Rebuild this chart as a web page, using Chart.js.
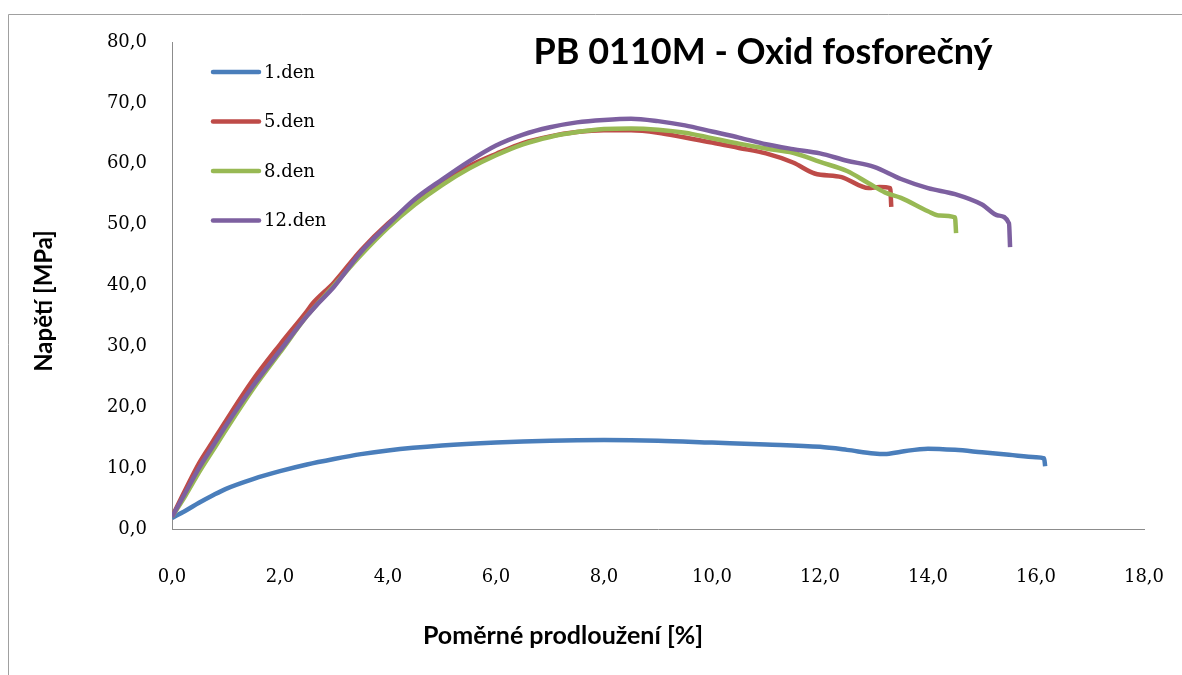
<!DOCTYPE html>
<html>
<head>
<meta charset="utf-8">
<script src="https://cdn.jsdelivr.net/npm/chart.js@4.4.0/dist/chart.umd.min.js"></script>
<style>
html,body{margin:0;padding:0;background:#fff;}
#wrap{width:1182px;height:675px;position:relative;}
</style>
</head>
<body>
<div id="wrap"><canvas id="chart" width="1182" height="675"></canvas></div>
<script>
const chartTitle = 'PB 0110M - Oxid fosforečný';
const xTitle = 'Poměrné prodloužení [%]';
const yTitle = 'Napětí [MPa]';
const seriesNames = ['1.den','5.den','8.den','12.den'];
const seriesColors = ['#4a7ebb','#be4b48','#98b954','#7d60a0'];

// strain [%] / stress [MPa] for each test day
const den1X = [0,0.25,0.5,0.75,1,1.5,2,2.5,3,3.5,4,5,6,7,8,9,10,11,12,12.5,13,13.2,13.5,14,14.5,15,15.5,16,16.15,16.17];
const den1Y = [1.8,3.0,4.3,5.5,6.6,8.2,9.5,10.6,11.5,12.3,12.9,13.7,14.2,14.5,14.6,14.5,14.2,13.9,13.5,13.0,12.4,12.3,12.7,13.2,13.0,12.6,12.2,11.8,11.6,10.3];

const den5X = [0,0.25,0.5,0.75,1,1.5,2,2.5,2.6,3,3.5,4,4.5,5,5.5,6,6.5,7,7.5,8,8.5,9,9.5,10,10.5,11,11.5,11.9,12.4,12.9,13.1,13.3,13.32];
const den5Y = [2.0,6.5,10.8,14.3,17.8,24.5,30.3,35.8,37.0,40.5,45.8,50.2,53.8,57.0,59.6,61.6,63.4,64.5,65.2,65.5,65.5,65.1,64.3,63.5,62.6,61.7,60.2,58.4,57.8,56.0,56.2,56.0,52.9];

const den8X = [0,0.25,0.5,0.75,1,1.5,2,2.5,3,3.5,4,4.5,5,5.5,6,6.5,7,7.5,8,8.5,9,9.5,10,10.5,11,11.5,12,12.5,12.9,13.2,13.5,14,14.2,14.5,14.52];
const den8Y = [2.0,5.5,9.3,12.8,16.3,23.0,29.0,35.0,40.0,45.0,49.5,53.3,56.5,59.2,61.4,63.2,64.4,65.2,65.7,65.8,65.6,65.1,64.2,63.3,62.5,61.8,60.3,58.8,56.8,55.3,54.4,52.2,51.5,51.2,48.6];

const den12X = [0,0.25,0.5,0.75,1,1.5,2,2.5,2.7,3,3.5,4,4.5,5,5.5,6,6.5,7,7.5,8,8.5,9,9.5,10,10.5,11,11.5,12,12.5,13,13.5,14,14.5,15,15.3,15.5,15.52];
const den12Y = [2.0,6.0,10.0,13.5,17.0,23.5,29.3,35.0,37.0,39.8,45.5,50.0,54.2,57.4,60.4,63.0,64.8,66.0,66.8,67.2,67.4,67.0,66.3,65.3,64.3,63.2,62.4,61.7,60.5,59.5,57.5,56.0,55.0,53.3,51.5,50.2,46.3];

const xTicks = [0,2,4,6,8,10,12,14,16,18];
const yTicks = [0,10,20,30,40,50,60,70,80];

const pairs = (xs, ys) => xs.map((x, i) => ({x: x, y: ys[i]}));
const seriesData = [pairs(den1X, den1Y), pairs(den5X, den5Y), pairs(den8X, den8Y), pairs(den12X, den12Y)];
const drawOrder = [3, 2, 1, 0];
const fmt = v => v.toFixed(1).replace('.', ',');

// frame, title, axis titles and the in-plot legend
const decor = {
  id: 'decor',
  beforeDraw(chart){
    const c = chart.ctx;
    c.save();
    c.fillStyle = '#fff'; c.fillRect(0, 0, chart.width, chart.height);
    c.strokeStyle = '#a0a0a0'; c.lineWidth = 1;
    c.beginPath(); c.moveTo(8.5, chart.height); c.lineTo(8.5, 14.5); c.lineTo(chart.width, 14.5); c.stroke();
    c.restore();
  },
  afterDraw(chart){
    const c = chart.ctx, a = chart.chartArea;
    c.save();
    c.fillStyle = '#000';
    c.textAlign = 'center'; c.textBaseline = 'middle';
    c.font = 'bold 36px Lato';
    c.fillText(chartTitle, 763, 52);
    c.font = 'bold 25px Lato';
    c.fillText(xTitle, 563, 636);
    c.font = 'bold 24px Lato';
    c.translate(44, 301); c.rotate(-Math.PI / 2);
    c.fillText(yTitle, 0, 0);
    c.restore();

    c.save();
    c.font = '18px "DejaVu Serif"';
    c.textAlign = 'left'; c.textBaseline = 'middle';
    chart.data.datasets.forEach((ds, i) => {
      const y = a.top + 30 + i * 49.5;
      c.strokeStyle = ds.borderColor; c.lineWidth = 4.5; c.lineCap = 'round';
      c.beginPath(); c.moveTo(a.left + 41, y); c.lineTo(a.left + 87, y); c.stroke();
      c.fillStyle = '#000';
      c.fillText(ds.label, a.left + 92, y + 1);
    });
    c.restore();
  }
};

new Chart(document.getElementById('chart'), {
  type: 'line',
  data: {
    datasets: seriesNames.map((name, i) => ({
      label: name,
      data: seriesData[i],
      borderColor: seriesColors[i],
      backgroundColor: seriesColors[i],
      borderWidth: 4.5,
      pointRadius: 0,
      cubicInterpolationMode: 'monotone',
      order: drawOrder[i],
      fill: false
    }))
  },
  options: {
    responsive: false,
    animation: false,
    layout: { padding: { top: 42, right: 38, left: 0, bottom: 0 } },
    plugins: { legend: { display: false }, tooltip: { enabled: false } },
    scales: {
      x: {
        type: 'linear', min: 0, max: 18,
        // the big label gap would otherwise widen the side padding
        afterFit: s => { s.height = 146; s.paddingLeft = 0; s.paddingRight = 0; },
        afterBuildTicks: s => { s.ticks = xTicks.map(v => ({value: v})); },
        grid: { display: false, drawTicks: false },
        border: { display: true, color: '#8c8c8c', width: 1 },
        ticks: { padding: 38, color: '#000', font: { family: 'DejaVu Serif', size: 18 }, callback: fmt }
      },
      y: {
        min: 0, max: 80,
        afterFit: s => { s.width = 172; },
        afterBuildTicks: s => { s.ticks = yTicks.map(v => ({value: v})); },
        grid: { display: false, drawTicks: false },
        border: { display: true, color: '#8c8c8c', width: 1 },
        ticks: { padding: 25, color: '#000', font: { family: 'DejaVu Serif', size: 18 }, callback: fmt }
      }
    }
  },
  plugins: [decor]
});
</script>
</body>
</html>
